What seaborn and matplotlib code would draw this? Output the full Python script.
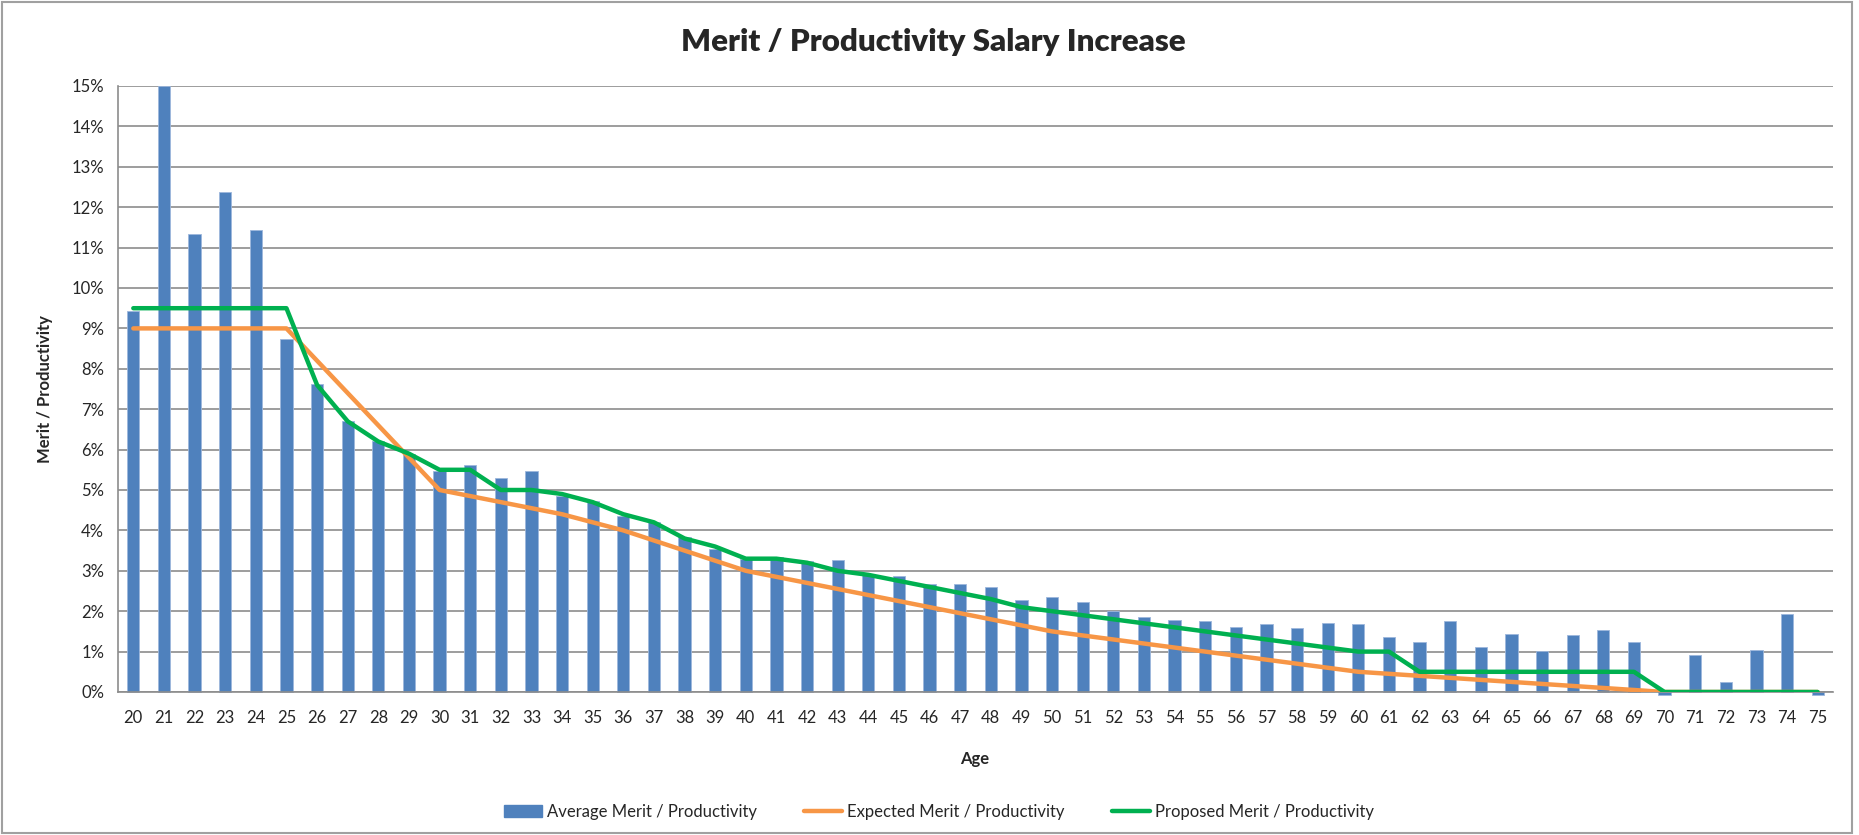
import numpy as np
import pandas as pd
import matplotlib
matplotlib.use("Agg")
import matplotlib.pyplot as plt
import seaborn as sns
from matplotlib.lines import Line2D
from matplotlib.patches import Patch, Rectangle
from matplotlib.ticker import FuncFormatter, MultipleLocator

ages = list(range(20, 76))

average = [9.44, 15.0, 11.33, 12.37, 11.43, 8.74, 7.62, 6.70, 6.21, 5.89,
           5.48, 5.61, 5.30, 5.48, 4.86, 4.74, 4.35, 4.21, 3.84, 3.53,
           3.30, 3.33, 3.25, 3.27, 2.89, 2.87, 2.67, 2.67, 2.60, 2.28,
           2.35, 2.24, 2.00, 1.86, 1.79, 1.75, 1.61, 1.68, 1.58, 1.72,
           1.68, 1.37, 1.23, 1.75, 1.12, 1.44, 1.02, 1.41, 1.54, 1.23,
           -0.08, 0.92, 0.25, 1.05, 1.93, -0.08]

expected = [9.0, 9.0, 9.0, 9.0, 9.0, 9.0, 8.2, 7.4, 6.6, 5.8,
            5.0, 4.85, 4.7, 4.55, 4.4, 4.2, 4.0, 3.75, 3.5, 3.25,
            3.0, 2.85, 2.7, 2.55, 2.4, 2.25, 2.1, 1.95, 1.8, 1.65,
            1.5, 1.4, 1.3, 1.2, 1.1, 1.0, 0.9, 0.8, 0.7, 0.6,
            0.5, 0.45, 0.4, 0.35, 0.3, 0.25, 0.2, 0.15, 0.1, 0.05,
            0.0, 0.0, 0.0, 0.0, 0.0, 0.0]

proposed = [9.5, 9.5, 9.5, 9.5, 9.5, 9.5, 7.6, 6.7, 6.2, 5.9,
            5.5, 5.5, 5.0, 5.0, 4.9, 4.7, 4.4, 4.2, 3.8, 3.6,
            3.3, 3.3, 3.2, 3.0, 2.9, 2.75, 2.6, 2.45, 2.3, 2.1,
            2.0, 1.9, 1.8, 1.7, 1.6, 1.5, 1.4, 1.3, 1.2, 1.1,
            1.0, 1.0, 0.5, 0.5, 0.5, 0.5, 0.5, 0.5, 0.5, 0.5,
            0.0, 0.0, 0.0, 0.0, 0.0, 0.0]

df = pd.DataFrame({"Age": ages, "Average": average,
                   "Expected": expected, "Proposed": proposed})

BLUE = "#4F81BD"
ORANGE = "#F79646"
GREEN = "#00B050"
GRID = "#8C8C8C"

sns.set_style("white")
plt.rcParams["font.family"] = ["Lato", "DejaVu Sans"]

W, H = 1859, 835
fig = plt.figure(figsize=(W / 100, H / 100), dpi=100)
ax = fig.add_axes([118 / W, 1 - 692 / H, (1833 - 118) / W, (692 - 86) / H])

sns.barplot(data=df, x="Age", y="Average", native_scale=True, width=0.4,
            color=BLUE, saturation=1, edgecolor="#9DB7DC", linewidth=0.6,
            ax=ax, zorder=2)
for p in ax.patches:
    p.set_clip_on(False)
sns.lineplot(data=df, x="Age", y="Expected", color=ORANGE, lw=3.2, ax=ax, zorder=3)
sns.lineplot(data=df, x="Age", y="Proposed", color=GREEN, lw=3.2, ax=ax, zorder=4)

ax.set_xlim(ages[0] - 0.5, ages[-1] + 0.5)
ax.set_ylim(0, 15)
ax.yaxis.set_major_locator(MultipleLocator(1))
ax.yaxis.set_major_formatter(FuncFormatter(lambda v, _: f"{v:.0f}%"))
ax.set_xticks(ages)
ax.set_xticklabels([str(a) for a in ages])
ax.set_xticks(np.arange(ages[0] - 0.5, ages[-1] + 1.0, 1.0), minor=True)
ax.tick_params(axis="x", which="major", length=0, pad=13, labelsize=12)
ax.tick_params(axis="x", which="minor", length=6, width=1, color=GRID, direction="out")
ax.tick_params(axis="y", length=6, width=1, color=GRID, direction="out", pad=4, labelsize=12)
ax.grid(axis="y", color=GRID, lw=1.2, zorder=0)
ax.set_axisbelow(True)
for s in ["top", "right"]:
    ax.spines[s].set_visible(False)
for s in ["left", "bottom"]:
    ax.spines[s].set_color(GRID)
    ax.spines[s].set_linewidth(1.2)
ax.set_xlabel("")
ax.set_ylabel("")

fig.text(933 / W, 1 - 42 / H, "Merit / Productivity Salary Increase",
         ha="center", va="center", fontsize=22.5, fontweight="heavy")
fig.text(45 / W, 1 - 389 / H, "Merit / Productivity", rotation=90,
         ha="center", va="center", fontsize=12, fontweight="bold")
fig.text(975 / W, 1 - 759 / H, "Age", ha="center", va="center",
         fontsize=12, fontweight="bold")

handles = [Patch(color=BLUE, label="Average Merit / Productivity"),
           Line2D([], [], color=ORANGE, lw=3.2, label="Expected Merit / Productivity"),
           Line2D([], [], color=GREEN, lw=3.2, label="Proposed Merit / Productivity")]
fig.legend(handles=handles, loc="center", bbox_to_anchor=(939 / W, 1 - 812 / H),
           ncol=3, frameon=False, fontsize=12, columnspacing=2.8,
           handlelength=2.3, handletextpad=0.3)

fig.add_artist(Rectangle((2 / W, 2 / H), (1852 - 2) / W, (833 - 2) / H,
                         transform=fig.transFigure, fill=False,
                         edgecolor="#A0A0A0", lw=1.5))

fig.savefig("out.png", dpi=100)
